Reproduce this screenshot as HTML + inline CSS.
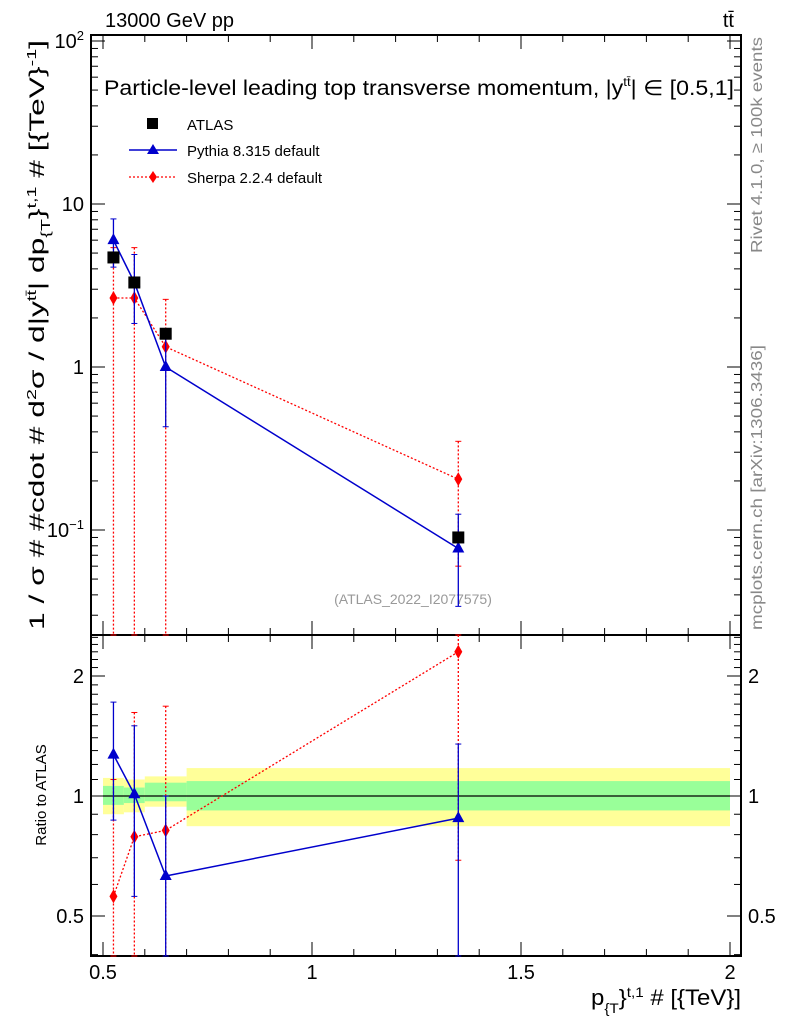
<!DOCTYPE html>
<html><head><meta charset="utf-8"><style>
body{margin:0;background:#fff;}
svg{display:block;font-family:"Liberation Sans",sans-serif;}
</style></head><body>
<svg id="c" width="786" height="1024" xmlns="http://www.w3.org/2000/svg">
<text x="105" y="27" font-size="20">13000 GeV pp</text>
<text x="734" y="27" font-size="20" text-anchor="end">tt̄</text>
<text x="104" y="95" font-size="21" textLength="630" lengthAdjust="spacingAndGlyphs">Particle-level leading top transverse momentum, |y<tspan font-size="12" dy="-9">tt̄</tspan><tspan dy="9">| ∈ [0.5,1]</tspan></text>
<text x="413" y="604" font-size="14" fill="#999" text-anchor="middle">(ATLAS_2022_I2077575)</text>
<text transform="translate(762,253) rotate(-90)" font-size="16" fill="#888" textLength="216" lengthAdjust="spacingAndGlyphs">Rivet 4.1.0, ≥ 100k events</text>
<text transform="translate(762,630) rotate(-90)" font-size="16" fill="#888" textLength="285" lengthAdjust="spacingAndGlyphs">mcplots.cern.ch [arXiv:1306.3436]</text>
<text transform="translate(44,630) rotate(-90)" font-size="21" textLength="590" lengthAdjust="spacingAndGlyphs">1 / σ # #cdot # d<tspan font-size="13" dy="-8">2</tspan><tspan dy="8">σ / d|y</tspan><tspan font-size="13" dy="-8">tt̄</tspan><tspan dy="8">| dp</tspan><tspan font-size="13" dy="6">{T</tspan><tspan dy="-6">}</tspan><tspan font-size="13" dy="-8">t,1</tspan><tspan dy="8"> # [{TeV}</tspan><tspan font-size="13" dy="-8">-1</tspan><tspan dy="8">]</tspan></text>
<text transform="translate(46,795) rotate(-90)" font-size="15" text-anchor="middle">Ratio to ATLAS</text>
<text x="741" y="1005" font-size="22" text-anchor="end" textLength="150" lengthAdjust="spacingAndGlyphs">p<tspan font-size="14" dy="8">{T</tspan><tspan dy="-8">}</tspan><tspan font-size="14" dy="-8">t,1</tspan><tspan dy="8"> # [{TeV}]</tspan></text>
<g>
<rect x="147" y="118" width="11" height="11" fill="#000"/>
<text x="187" y="130" font-size="15">ATLAS</text>
<line x1="129" y1="150" x2="177" y2="150" stroke="#00c" stroke-width="1.5"/>
<polygon points="153,144 147,154 159,154" fill="#00c"/>
<text x="187" y="156" font-size="15">Pythia 8.315 default</text>
<line x1="129" y1="177" x2="177" y2="177" stroke="#f00" stroke-width="1.3" stroke-dasharray="2,2"/>
<polygon points="153,171 157,177 153,183 149,177" fill="#f00"/>
<text x="187" y="183" font-size="15">Sherpa 2.2.4 default</text>
</g>
<g id="g"></g>
</svg>
<script>
const binEdges=[0.5,0.55,0.6,0.7,2.0];
const xCenters=[0.525,0.575,0.65,1.35];
const atlas=[4.7,3.3,1.6,0.09];
const pythia=[6.0,3.3,1.0,0.077];
const pythiaUp=[8.1,4.9,1.6,0.125];
const pythiaDn=[4.1,1.85,0.43,0.034];
const sherpa=[2.65,2.65,1.33,0.205];
const sherpaUp=[5.4,5.4,2.6,0.35];
const sherpaDn=[0.01,0.01,0.01,0.06];
const pyRatio=[1.27,1.01,0.63,0.88];
const pyRatioUp=[1.72,1.5,1.0,1.35];
const pyRatioDn=[0.87,0.56,0.1,0.1];
const shRatio=[0.56,0.79,0.82,2.3];
const shRatioUp=[1.1,1.62,1.68,3];
const shRatioDn=[0.1,0.1,0.1,0.69];
const bandYelUp=[1.11,1.10,1.12,1.175];
const bandYelDn=[0.90,0.91,0.94,0.84];
const bandGrnUp=[1.06,1.05,1.08,1.09];
const bandGrnDn=[0.95,0.96,0.97,0.92];
const xTicks=[0.5,1,1.5,2];
const xTickLabels=["0.5","1","1.5","2"];
const rTicks=[0.5,1,2];

const L=91,R=741,T=35,M=635,B=956;
const X=v=>103+(v-0.5)*418;
const Ym=v=>{let y=367-163*Math.log10(v);return Math.max(T,Math.min(M,y));};
const Yr=v=>{let y=796-120*Math.log2(v);return Math.max(M,Math.min(B,y));};
const NS="http://www.w3.org/2000/svg";
const g=document.getElementById('g');
function el(t,a,p){const e=document.createElementNS(NS,t);for(const k in a)e.setAttribute(k,a[k]);(p||g).appendChild(e);return e;}

for(let i=0;i<4;i++){
 const x0=X(binEdges[i]),x1=X(binEdges[i+1]);
 const y=el('rect',{x:x0,y:Yr(bandYelUp[i]),width:x1-x0,height:Yr(bandYelDn[i])-Yr(bandYelUp[i]),fill:'#ffff99'});
 
 
 const gr=el('rect',{x:x0,y:Yr(bandGrnUp[i]),width:x1-x0,height:Yr(bandGrnDn[i])-Yr(bandGrnUp[i]),fill:'#99ff99'});
 
 
}
el('line',{x1:X(0.5),x2:X(2),y1:Yr(1),y2:Yr(1),stroke:'#000','stroke-width':1.3});

const f1=el('rect',{x:L,y:T,width:R-L,height:M-T,fill:'none',stroke:'#000','stroke-width':2});


const f2=el('rect',{x:L,y:M,width:R-L,height:B-M,fill:'none',stroke:'#000','stroke-width':2});



for(let v=0.5;v<=2.001;v+=0.1){
 const major=Math.abs(v*2-Math.round(v*2))<1e-6, len=major?14:7;
 for(const [yb,dir] of [[M,-1],[T,1],[B,-1],[M,1]]){el('line',{x1:X(v),x2:X(v),y1:yb,y2:yb+dir*len,stroke:'#000'});}
}
xTicks.forEach((v,i)=>{const t=el('text',{x:X(v),y:979,'font-size':20,'text-anchor':'middle'});t.textContent=xTickLabels[i];

});

for(let d=-2;d<=2;d++)for(let m=1;m<10;m++){const v=m*Math.pow(10,d);const y=367-163*Math.log10(v);if(y<T||y>M)continue;const len=m==1?14:7;
 el('line',{x1:L,x2:L+len,y1:y,y2:y,stroke:'#000'});el('line',{x1:R,x2:R-len,y1:y,y2:y,stroke:'#000'});}
[['10',2],['10',1],['1',0],['10',-1]].forEach(([b,e])=>{const t=el('text',{x:84,y:Ym(Math.pow(10,e))+7,'font-size':20,'text-anchor':'end'});
 if(e==1||e==0)t.textContent=e==1?'10':'1';else{t.textContent='10';const s=el('tspan',{'font-size':13,dy:-8},t);s.textContent=e==2?'2':'−1';}
 
 });
for(let v=0.4;v<=2.6;v+=0.1){const y=Yr(v);if(y<=M+1||y>=B-1)continue;const major=rTicks.some(r=>Math.abs(r-v)<1e-6);const len=major?14:7;
 el('line',{x1:L,x2:L+len,y1:y,y2:y,stroke:'#000'});el('line',{x1:R,x2:R-len,y1:y,y2:y,stroke:'#000'});}
rTicks.forEach(v=>{const s=String(v);
 const a=el('text',{x:84,y:Yr(v)+7,'font-size':20,'text-anchor':'end'});a.textContent=s;
 
 
 const b=el('text',{x:748,y:Yr(v)+7,'font-size':20});b.textContent=s;
 
 });

function series(vals,up,dn,Y,color,dash,shape,name){
 const pts=vals.map((v,i)=>X(xCenters[i])+','+Y(v)).join(' ');
 if(shape!=='sq'){const pl=el('polyline',{points:pts,fill:'none',stroke:color,'stroke-width':dash?1.3:1.5,'stroke-dasharray':dash||'none'});
  
  }
 vals.forEach((v,i)=>{const x=X(xCenters[i]),y=Y(v);
  if(up){el('line',{x1:x,x2:x,y1:Y(up[i]),y2:Y(dn[i]),stroke:color,'stroke-width':1.3,'stroke-dasharray':dash||'none'});
   el('line',{x1:x-3,x2:x+3,y1:Y(up[i]),y2:Y(up[i]),stroke:color});el('line',{x1:x-3,x2:x+3,y1:Y(dn[i]),y2:Y(dn[i]),stroke:color});}
  let m;
  if(shape==='sq')m=el('rect',{x:x-6,y:y-6,width:12,height:12,fill:'#000'});
  else if(shape==='tri')m=el('polygon',{points:`${x},${y-7} ${x-6},${y+4} ${x+6},${y+4}`,fill:color});
  else m=el('polygon',{points:`${x},${y-7} ${x+4},${y} ${x},${y+7} ${x-4},${y}`,fill:color});
  
  
 });
}
series(sherpa,sherpaUp,sherpaDn,Ym,'#f00','2,2','dia','sherpa');
series(pythia,pythiaUp,pythiaDn,Ym,'#00c',null,'tri','pythia');
series(atlas,null,null,Ym,'#000',null,'sq','atlas');
series(shRatio,shRatioUp,shRatioDn,Yr,'#f00','2,2','dia','sherpa-ratio');
series(pyRatio,pyRatioUp,pyRatioDn,Yr,'#00c',null,'tri','pythia-ratio');
</script>
</body></html>
